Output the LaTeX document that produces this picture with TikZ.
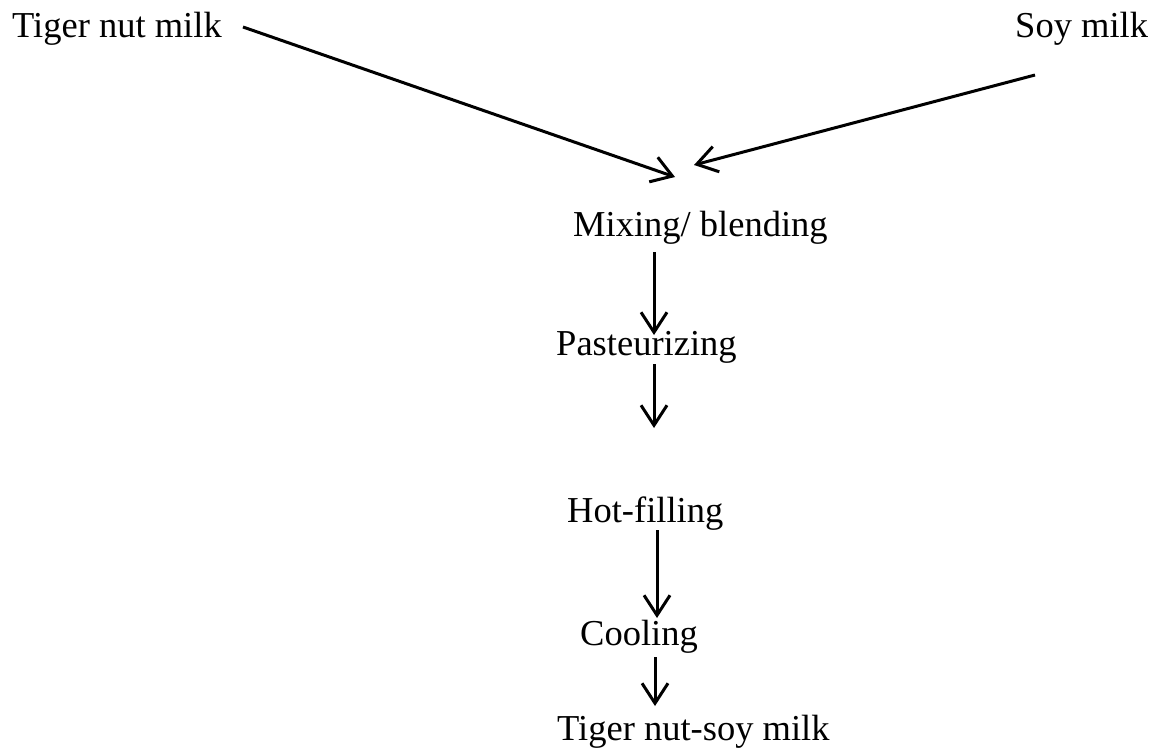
\documentclass[tikz,border=0pt]{standalone}
\usepackage{fontspec}
\setmainfont{Liberation Serif}
\usetikzlibrary{arrows.meta}
\begin{document}
\begin{tikzpicture}[x=1pt,y=-1pt,
  lbl/.style={inner sep=0pt,anchor=base west,font=\fontsize{36.5}{44}\selectfont},
  arr/.style={line width=3pt,-{Straight Barb[length=20pt,width=26pt,line width=3pt]}}]
\useasboundingbox (0,0) rectangle (1153,748);
\node[lbl] (tnm) at (12,37) {Tiger nut milk};
\node[lbl] (soy) at (1015,37) {Soy milk};
\node[lbl] (mix) at (573,236) {Mixing/ blending};
\node[lbl] (pas) at (556,355) {Pasteurizing};
\node[lbl] (hot) at (567,522) {Hot-filling};
\node[lbl] (col) at (580,645) {Cooling};
\node[lbl] (out) at (557,740) {Tiger nut-soy milk};
% connector end points
\coordinate (tnmE) at (243,27);
\coordinate (soyE) at (1035,75);
\coordinate (mixT1) at (675,177);
\coordinate (mixT2) at (694,165);
\coordinate (mixB) at (654,252);
\coordinate (pasT) at (654,335);
\coordinate (pasB) at (654,364);
\coordinate (pasE) at (654,428);
\coordinate (hotB) at (657,530);
\coordinate (colT) at (657,618);
\coordinate (colB) at (655,657);
\coordinate (outT) at (655,706);
\draw[arr] (tnmE) -- (mixT1);
\draw[arr] (soyE) -- (mixT2);
\draw[arr] (mixB) -- (pasT);
\draw[arr] (pasB) -- (pasE);
\draw[arr] (hotB) -- (colT);
\draw[arr] (colB) -- (outT);
\end{tikzpicture}
\end{document}
